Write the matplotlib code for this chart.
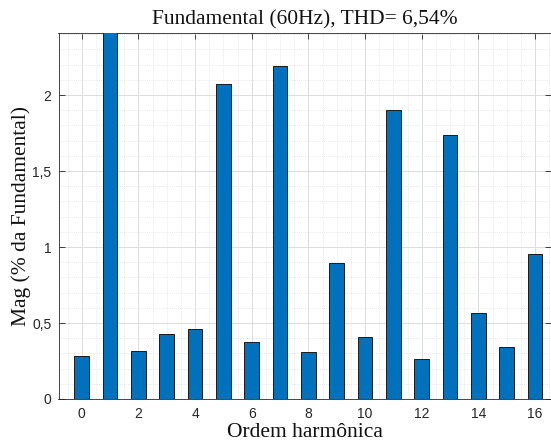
import numpy as np
import matplotlib
matplotlib.use("Agg")
import matplotlib.pyplot as plt
from matplotlib.ticker import MultipleLocator, FuncFormatter

# Harmonic spectrum, % of fundamental (order 1 = fundamental, clipped by ylim)
ordem = list(range(0, 17))
mag = [0.28, 100.0, 0.315, 0.43, 0.46, 2.07, 0.377, 2.19, 0.307, 0.897,
       0.406, 1.90, 0.265, 1.74, 0.564, 0.344, 0.954]
thd = "6,54"

fig = plt.figure(figsize=(5.51, 4.45), dpi=100)
ax = fig.add_axes([58.5 / 551, 46 / 445, (551 - 58.5) / 551, (399 - 33) / 445])

axis_color = "#262626"

ax.bar(ordem, mag, width=0.52, color="#0072BD", edgecolor="#1a1a1a",
       linewidth=0.7, zorder=3)

ax.set_xlim(-0.82, 16.56)
ax.set_ylim(0, 2.408)

ax.xaxis.set_major_locator(MultipleLocator(2))
ax.xaxis.set_minor_locator(MultipleLocator(0.5))
ax.yaxis.set_major_locator(MultipleLocator(0.5))
ax.yaxis.set_minor_locator(MultipleLocator(0.1))

# decimal comma on the y labels
ax.yaxis.set_major_formatter(FuncFormatter(lambda v, p: ("%g" % v).replace(".", ",")))

ax.grid(which="major", color="#dcdcdc", linewidth=0.7, zorder=0)
ax.grid(which="minor", color="#e0e0e0", linestyle=(0, (1, 1.5)), linewidth=0.6, zorder=0)
ax.set_axisbelow(True)

ax.tick_params(which="major", direction="in", length=4, width=0.6,
               top=True, right=True, colors=axis_color, labelsize=10)
ax.tick_params(axis="x", which="major", pad=6)
ax.tick_params(axis="y", which="major", pad=5)
ax.tick_params(which="minor", length=0, top=True, right=True)
for lbl in ax.get_xticklabels() + ax.get_yticklabels():
    lbl.set_family("Liberation Sans")
for s in ax.spines.values():
    s.set_color(axis_color)
    s.set_linewidth(0.6)

serif = "Liberation Serif"
ax.set_title("Fundamental (60Hz), THD= %s%%" % thd, family=serif, fontsize=15.5,
             pad=6, color="#111111")
ax.set_xlabel("Ordem harmônica", family=serif, fontsize=15.5, labelpad=1, color="#111111")
ax.set_ylabel("Mag (% da Fundamental)", family=serif, fontsize=15.5, labelpad=1, color="#111111")

fig.savefig("out.png", dpi=100)
